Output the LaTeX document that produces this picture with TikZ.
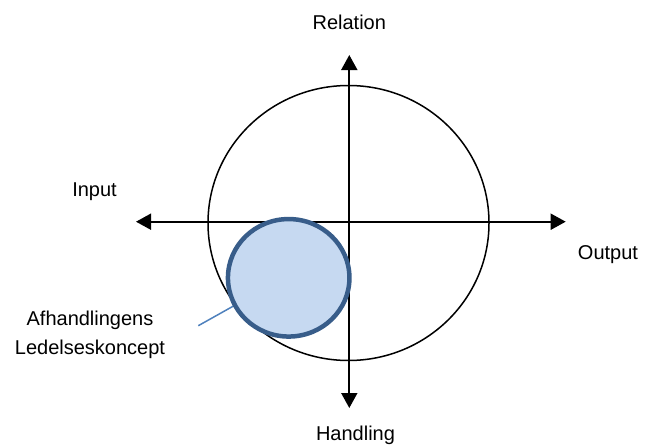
\documentclass[tikz,border=0pt]{standalone}
\usepackage{fontspec}
\setmainfont{Liberation Sans}
\usetikzlibrary{arrows.meta,shapes.geometric}
\definecolor{conceptfill}{HTML}{C6D9F1}
\definecolor{conceptline}{HTML}{385D8A}
\definecolor{leaderblue}{HTML}{4F81BD}
\tikzset{
  axis/.style={line width=1.8pt,{Triangle[length=15pt,width=16pt]}-{Triangle[length=15pt,width=16pt]}},
  lbl/.style={font=\fontsize{20}{29}\selectfont,anchor=base,inner sep=0pt},
}
\begin{document}
\begin{tikzpicture}[x=1pt,y=-1pt]
\useasboundingbox (0,0) rectangle (655,444);
% big circle
\node[draw,ellipse,line width=1.5pt,minimum width=281pt,minimum height=275pt,inner sep=0pt] (big) at (348.5,223) {};
% axes
\coordinate (top) at (349.3,55);
\coordinate (bottom) at (349.3,408);
\coordinate (left) at (136,221.7);
\coordinate (right) at (565.7,221.7);
\draw[axis] (bottom) -- (top);
\draw[axis] (left) -- (right);
% labels
\node[lbl] (rel) at (349.3,30) {Relation};
\node[lbl] (inp) at (94.5,196) {Input};
\node[lbl] (out) at (608,259.3) {Output};
\node[lbl] (hand) at (355.5,440) {Handling};
\node[lbl,align=center] (afh) at (90,354) {Afhandlingens\\Ledelseskoncept};
% concept circle
\coordinate (lead) at (198.3,325.7);
\node[ellipse,minimum width=121.5pt,minimum height=117.5pt,inner sep=0pt] (small) at (288.7,277.8) {};
\draw[leaderblue,line width=1.5pt] (lead) -- (small.207);
\node[draw=conceptline,fill=conceptfill,ellipse,line width=4.5pt,minimum width=121.5pt,minimum height=117.5pt,inner sep=0pt] at (288.7,277.8) {};
\end{tikzpicture}
\end{document}
